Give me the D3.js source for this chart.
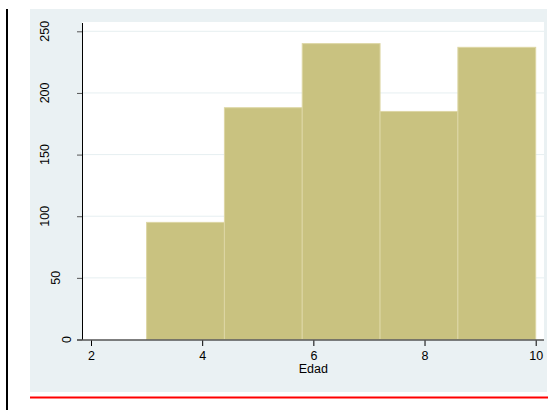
<!DOCTYPE html>
<html>
<head>
<meta charset="utf-8">
<script src="https://cdn.jsdelivr.net/npm/d3@7"></script>
<style>
  html, body { margin: 0; padding: 0; background: #ffffff; }
  svg { display: block; font-family: Arial, "Liberation Sans", sans-serif; }
</style>
</head>
<body>
<svg id="chart" width="551" height="410"></svg>
<script>
// ---- data ----
const binEdges = [3, 4.4, 5.8, 7.2, 8.6, 10];
const counts = [95, 188, 240, 185, 237];
const xTicks = [2, 4, 6, 8, 10];
const yTicks = [0, 50, 100, 150, 200, 250];
const xTitle = "Edad";

const svg = d3.select("#chart");

// outer decorations
svg.append("line").attr("x1", 7).attr("x2", 7).attr("y1", 9).attr("y2", 410)
  .attr("stroke", "#000").attr("stroke-width", 2);
svg.append("rect").attr("x", 30).attr("y", 9).attr("width", 517).attr("height", 383)
  .attr("fill", "#eaf1f3");
svg.append("line").attr("x1", 30).attr("x2", 548).attr("y1", 397.5).attr("y2", 397.5)
  .attr("stroke", "#ff0000").attr("stroke-width", 2);

// plot region
const plot = { left: 82, right: 544, top: 22, bottom: 340 };
svg.append("rect").attr("x", plot.left).attr("y", plot.top)
  .attr("width", plot.right - plot.left).attr("height", plot.bottom - plot.top)
  .attr("fill", "#ffffff");

const x = d3.scaleLinear().domain([2, 10]).range([91, 535.7]);
const y = d3.scaleLinear().domain([0, 250]).range([339.5, 31.3]);

// gridlines
svg.append("g").selectAll("line").data(yTicks.filter(d => d > 0)).join("line")
  .attr("x1", plot.left).attr("x2", plot.right)
  .attr("y1", d => y(d)).attr("y2", d => y(d))
  .attr("stroke", "#e7eff1").attr("stroke-width", 1);

// bars
const bins = counts.map((c, i) => ({ x0: binEdges[i], x1: binEdges[i + 1], c }));
svg.append("g").selectAll("rect").data(bins).join("rect")
  .attr("x", d => x(d.x0))
  .attr("width", d => x(d.x1) - x(d.x0))
  .attr("y", d => y(d.c))
  .attr("height", d => y(0) - y(d.c))
  .attr("fill", "#c9c280")
  .attr("stroke", "#ddd6a4")
  .attr("stroke-width", 1);

// y axis
const yAxis = d3.axisLeft(y).tickValues(yTicks).tickSize(5).tickFormat(d3.format("d"));
const gy = svg.append("g").attr("transform", `translate(${plot.left},0)`).call(yAxis);
gy.select(".domain").remove();
gy.selectAll(".tick line").attr("stroke", "#555");
gy.selectAll(".tick text").remove();
svg.append("line").attr("x1", plot.left + 0.5).attr("x2", plot.left + 0.5)
  .attr("y1", 23).attr("y2", plot.bottom).attr("stroke", "#000").attr("stroke-width", 1);

// y labels (vertical)
const yl = svg.append("g").selectAll("text").data(yTicks).join("text")
  .attr("font-size", 12.5).attr("fill", "#000").attr("text-anchor", "middle")
  .text(d => d);
yl.each(function(d) {
  const w = this.getComputedTextLength();
  const cx = 71 - (w - 7) * 1.6;
  d3.select(this).attr("transform", `translate(${cx},${y(d)}) rotate(-90)`);
});

// x axis
const xAxis = d3.axisBottom(x).tickValues(xTicks).tickSize(6).tickFormat(d3.format("d"));
const gx = svg.append("g").attr("transform", `translate(0,${plot.bottom})`).call(xAxis);
gx.select(".domain").remove();
gx.selectAll(".tick line").attr("stroke", "#000");
gx.selectAll(".tick text").attr("font-size", 12.5).attr("fill", "#000")
  .attr("font-family", "Arial, 'Liberation Sans', sans-serif")
  .attr("dy", null).attr("y", 20);
svg.append("line").attr("x1", 77).attr("x2", plot.right)
  .attr("y1", plot.bottom).attr("y2", plot.bottom)
  .attr("stroke", "#555").attr("stroke-width", 1.5);

svg.append("text").attr("x", (x(2) + x(10)) / 2).attr("y", 372.5)
  .attr("text-anchor", "middle").attr("font-size", 12.5).attr("fill", "#000")
  .text(xTitle);
</script>
</body>
</html>
